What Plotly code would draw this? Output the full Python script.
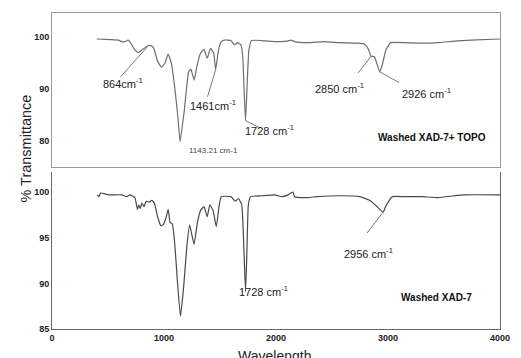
import plotly.graph_objects as go

# FTIR spectra: washed XAD-7 resin with and without TOPO
topo_wavenumber = [400, 520, 594, 623, 652, 680, 700, 740, 768, 797, 841, 864, 900, 914,
                   943, 978, 1007, 1037, 1066, 1095, 1124, 1143.21, 1182, 1220, 1240, 1269,
                   1293, 1327, 1357, 1386, 1415, 1444, 1461, 1487, 1511, 1540, 1598, 1627,
                   1657, 1686, 1703, 1715, 1728, 1742, 1758, 1782, 1875, 1991, 2050, 2100,
                   2137, 2166, 2282, 2428, 2574, 2719, 2792, 2821, 2850, 2879, 2900, 2926,
                   2952, 2981, 3025, 3155, 3301, 3447, 3592, 3738, 4000]
topo_transmittance = [99.6, 99.5, 99.4, 99.1, 99.1, 99.4, 98.9, 97.5, 97.0, 97.4, 98.1, 98.4, 98.1, 97.5,
                      95.3, 94.2, 94.9, 96.7, 94.9, 90.4, 84.7, 79.9, 86.0, 93.3, 93.8, 91.7,
                      94.3, 96.9, 97.6, 95.9, 97.8, 96.9, 93.7, 97.5, 99.1, 99.4, 99.3, 98.5,
                      98.9, 98.5, 96.2, 90.0, 83.9, 90.5, 97.5, 99.3, 99.3, 99.1, 99.1, 99.2,
                      99.4, 99.1, 98.9, 99.1, 98.9, 98.8, 98.6, 97.8, 96.3, 96.2, 94.9, 93.3,
                      94.9, 97.5, 98.9, 98.9, 98.8, 98.9, 99.2, 99.4, 99.6]

xad_wavenumber = [405, 420, 434, 507, 623, 667, 696, 740, 763, 775, 789, 803, 821, 841, 870,
                  891, 914, 943, 972, 996, 1016, 1037, 1054, 1074, 1095, 1118, 1147, 1176,
                  1205, 1229, 1249, 1269, 1299, 1327, 1357, 1386, 1409, 1438, 1467, 1491,
                  1511, 1598, 1636, 1665, 1694, 1710, 1728, 1740, 1753, 1773, 1875, 1991,
                  2050, 2108, 2151, 2166, 2282, 2369, 2574, 2748, 2836, 2894, 2956, 2975,
                  2996, 3039, 3155, 3301, 3447, 3592, 3680, 4000]
xad_transmittance = [99.7, 99.5, 99.9, 99.7, 99.7, 99.5, 99.7, 99.4, 98.1, 98.6, 98.2, 98.8, 98.4, 99.0, 98.9,
                     99.1, 98.8, 97.3, 96.3, 96.5, 97.1, 98.1, 96.7, 96.5, 94.5, 90.5, 86.4, 89.7,
                     94.2, 96.4, 95.3, 94.3, 96.7, 98.0, 98.4, 97.3, 98.6, 98.0, 96.2, 98.4,
                     99.5, 99.5, 99.0, 99.3, 98.6, 94.9, 89.1, 93.4, 98.6, 99.5, 99.6, 99.7,
                     99.5, 99.7, 100.0, 99.5, 99.4, 99.5, 99.6, 99.5, 99.1, 98.5, 97.8, 98.3,
                     98.8, 99.5, 99.5, 99.5, 99.4, 99.6, 99.7, 99.7]

x_ticks = [0, 1000, 2000, 3000, 4000]
topo_y_ticks = [80, 90, 100]
xad_y_ticks = [85, 90, 95, 100]

FONT = "Liberation Sans"
tick_font = dict(family=FONT, size=9, color="#222", weight="bold")

fig = go.Figure()
fig.add_trace(go.Scatter(x=topo_wavenumber, y=topo_transmittance, mode="lines",
                         line=dict(color="#6e6e6e", width=1.2, shape="spline", smoothing=0.4),
                         xaxis="x", yaxis="y", showlegend=False, hoverinfo="skip"))
fig.add_trace(go.Scatter(x=xad_wavenumber, y=xad_transmittance, mode="lines",
                         line=dict(color="#4a4a4a", width=1.2, shape="spline", smoothing=0.4),
                         xaxis="x2", yaxis="y2", showlegend=False, hoverinfo="skip"))

label_font = dict(family=FONT, size=11, color="#222")
annotations = [
    dict(x=638, y=91.2, xref="x", yref="y", text="864cm<sup>-1</sup>"),
    dict(x=1441, y=86.9, xref="x", yref="y", text="1461cm<sup>-1</sup>"),
    dict(x=1945, y=82.1, xref="x", yref="y", text="1728 cm<sup>-1</sup>"),
    dict(x=2568, y=90.2, xref="x", yref="y", text="2850 cm<sup>-1</sup>"),
    dict(x=3345, y=89.2, xref="x", yref="y", text="2926 cm<sup>-1</sup>"),
    dict(x=1441, y=78.1, xref="x", yref="y", text="1143.21 cm-1",
         font=dict(family=FONT, size=8, color="#444")),
    dict(x=3397, y=80.6, xref="x", yref="y", text="Washed XAD-7+ TOPO",
         font=dict(family=FONT, size=10, color="#111", weight="bold")),
    dict(x=1886, y=89.2, xref="x2", yref="y2", text="1728 cm<sup>-1</sup>"),
    dict(x=2830, y=93.3, xref="x2", yref="y2", text="2956 cm<sup>-1</sup>"),
    dict(x=3432, y=88.5, xref="x2", yref="y2", text="Washed XAD-7",
         font=dict(family=FONT, size=10, color="#111", weight="bold")),
    dict(x=-0.081, y=0.57, xref="paper", yref="paper", text="% Transmittance", textangle=-90,
         font=dict(family=FONT, size=14.5, color="#222")),
    dict(x=0.497, y=-0.054, xref="paper", yref="paper", text="Wavelength", yanchor="top",
         font=dict(family=FONT, size=14, color="#222")),
]
for a in annotations:
    a.setdefault("showarrow", False)
    a.setdefault("font", label_font)

# leader lines from peaks to their labels
leaders = [
    ("x", "y", 611, 92.3, 864, 98.4),
    ("x", "y", 1389, 88.5, 1461, 93.7),
    ("x", "y", 1728, 83.9, 1860, 82.5),
    ("x", "y", 2734, 93.1, 2850, 96.3),
    ("x", "y", 2926, 93.3, 3100, 91.2),
    ("x2", "y2", 2812, 95.5, 2956, 97.8),
]
shapes = [dict(type="line", xref=xr, yref=yr, x0=x0, y0=y0, x1=x1, y1=y1,
               line=dict(color="#777", width=1))
          for xr, yr, x0, y0, x1, y1 in leaders]

fig.update_layout(
    width=521, height=358,
    margin=dict(l=52, r=11, t=13, b=29),
    paper_bgcolor="white", plot_bgcolor="white",
    annotations=annotations, shapes=shapes,
    xaxis=dict(domain=[0, 1], anchor="y", range=[0, 4000], showticklabels=False,
               showgrid=False, zeroline=False, showline=True, mirror=True,
               linecolor="#999", linewidth=1, ticks=""),
    yaxis=dict(domain=[0.5127, 1], anchor="x", range=[75, 104.6], tickvals=topo_y_ticks,
               showgrid=False, zeroline=False, showline=True, mirror=True,
               linecolor="#999", linewidth=1, ticks="", tickfont=tick_font),
    xaxis2=dict(domain=[0, 1], anchor="y2", range=[0, 4000], tickvals=x_ticks,
                showgrid=False, zeroline=False, showline=True, mirror=False,
                linecolor="#666", linewidth=1, ticks="", tickfont=tick_font),
    yaxis2=dict(domain=[0, 0.4968], anchor="x2", range=[85, 102.2], tickvals=xad_y_ticks,
                showgrid=False, zeroline=False, showline=True, mirror=True,
                linecolor="#666", linewidth=1, ticks="", tickfont=tick_font),
)

fig.write_html("out.html")
